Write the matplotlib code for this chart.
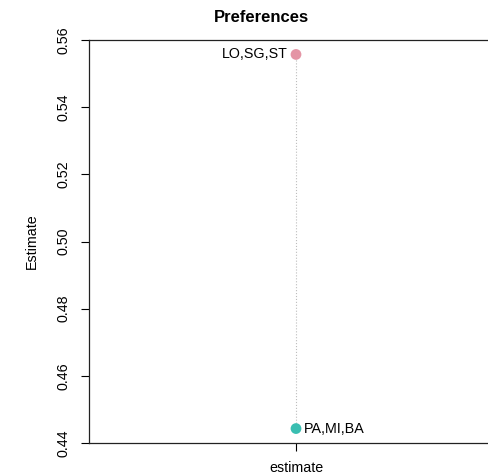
import matplotlib
matplotlib.use("Agg")
import matplotlib.pyplot as plt

# values
groups = ["LO,SG,ST", "PA,MI,BA"]
estimates = [0.5557, 0.4443]
colors = ["#E495A5", "#39BEB1"]
yticks = [0.44, 0.46, 0.48, 0.50, 0.52, 0.54, 0.56]

plt.rcParams.update({
    "font.family": ["Liberation Sans", "DejaVu Sans"],
    "font.size": 10.3,
})

fig = plt.figure(figsize=(4.88, 4.76), dpi=100)
# R-style plot region; right edge runs past the figure like the original
ax = fig.add_axes([89 / 488, 1 - 443 / 476, (503 - 89) / 488, (443 - 40) / 476])

x0 = 1
ax.plot([x0, x0], estimates, color="#bdbdbd", linestyle=":", linewidth=0.8, zorder=1)
ax.scatter([x0] * len(estimates), estimates, c=colors, s=60, zorder=3, edgecolors="none")

ax.annotate(groups[0], (x0, estimates[0]), xytext=(-6, 0), textcoords="offset points",
            ha="right", va="center")
ax.annotate(groups[1], (x0, estimates[1]), xytext=(6, 0), textcoords="offset points",
            ha="left", va="center")

ax.set_xlim(0, 2)
ax.set_ylim(min(yticks), max(yticks))
ax.set_xticks([x0])
ax.set_xticklabels(["estimate"])
ax.set_yticks(yticks)
ax.set_yticklabels([f"{v:.2f}" for v in yticks], rotation=90, va="center")
ax.tick_params(direction="out", length=6, width=0.8, colors="black", pad=7)
for s in ax.spines.values():
    s.set_linewidth(0.9)
    s.set_color("#222222")

ax.set_ylabel("Estimate", labelpad=13)
fig.text(261 / 488, 1 - 17 / 476, "Preferences", ha="center", va="center",
         fontsize=12, fontweight="bold")

fig.savefig("out.png", dpi=100)
